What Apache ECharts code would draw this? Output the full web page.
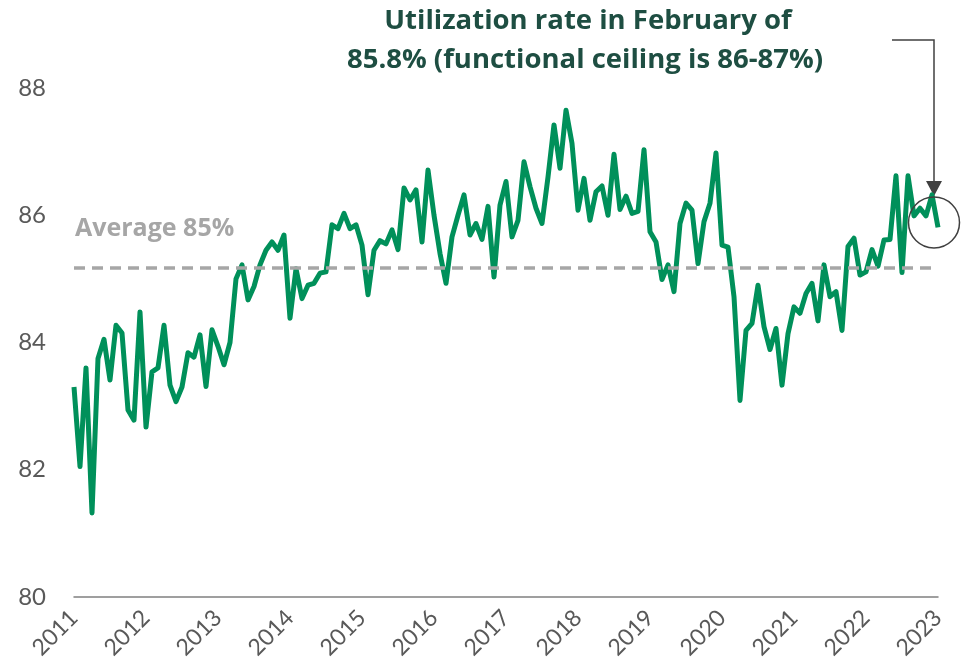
<!DOCTYPE html>
<html>
<head>
<meta charset="utf-8">
<script src="https://cdn.jsdelivr.net/npm/echarts@6/dist/echarts.min.js"></script>
<style>
  html, body { margin: 0; padding: 0; background: #fff; }
  #chart { width: 972px; height: 670px; }
</style>
</head>
<body>
<div id="chart"></div>
<script>
// monthly utilization rate, Feb 2011 - Feb 2023
const startYear = 2011
const startMonth = 2
const values = [
  83.30, 82.05, 83.60, 81.32, 83.75, 84.05, 83.41, 84.27, 84.15, 82.94, 82.78, 84.48,
  82.67, 83.54, 83.60, 84.27, 83.33, 83.07, 83.30, 83.84, 83.77, 84.12, 83.31, 84.20,
  83.94, 83.65, 84.00, 85.00, 85.22, 84.67, 84.88, 85.22, 85.45, 85.58, 85.45, 85.69,
  84.38, 85.16, 84.69, 84.90, 84.93, 85.09, 85.11, 85.85, 85.79, 86.03, 85.79, 85.85,
  85.53, 84.75, 85.45, 85.60, 85.55, 85.77, 85.46, 86.43, 86.24, 86.40, 85.58, 86.71,
  86.00, 85.40, 84.93, 85.66, 86.00, 86.32, 85.69, 85.87, 85.62, 86.14, 85.03, 86.16,
  86.53, 85.66, 85.92, 86.84, 86.45, 86.11, 85.87, 86.60, 87.42, 86.74, 87.65, 87.13,
  86.08, 86.58, 85.92, 86.37, 86.46, 86.00, 86.96, 86.09, 86.30, 86.03, 86.06, 87.03,
  85.74, 85.58, 84.99, 85.22, 84.80, 85.87, 86.19, 86.08, 85.24, 85.90, 86.19, 86.98,
  85.53, 85.50, 84.72, 83.09, 84.19, 84.30, 84.90, 84.25, 83.89, 84.22, 83.33, 84.14,
  84.56, 84.46, 84.77, 84.93, 84.34, 85.22, 84.72, 84.80, 84.19, 85.51, 85.64, 85.06,
  85.11, 85.46, 85.20, 85.61, 85.62, 86.62, 85.10, 86.62, 85.99, 86.11, 85.99, 86.32,
  85.81
]
const average = 85.17
const yTicks = [80, 82, 84, 86, 88]
const titleLines = ['Utilization rate in February of', '85.8% (functional ceiling is 86-87%)']
const averageLabel = 'Average 85%'

// month categories, labelled by year every 12th point
const categories = values.map(function (v, i) {
  const m = startMonth - 1 + i
  const y = startYear + Math.floor(m / 12)
  const mm = (m % 12) + 1
  return y + '-' + (mm < 10 ? '0' + mm : mm)
})

const font = 'Lato, "Open Sans", sans-serif'
const boldFont = '"Open Sans", Lato, sans-serif'
const chart = echarts.init(document.getElementById('chart'))

chart.setOption({
  animation: false,
  grid: { left: 74, right: 34, top: 88, bottom: 73 },
  xAxis: {
    type: 'category',
    boundaryGap: false,
    data: categories,
    axisTick: { show: false },
    axisLine: { lineStyle: { color: '#808080', width: 1.5 } },
    axisLabel: {
      interval: 11,
      rotate: 45,
      margin: 17,
      color: '#595959',
      fontFamily: font,
      fontSize: 23,
      formatter: function (v) { return v.substring(0, 4) }
    },
    splitLine: { show: false }
  },
  yAxis: {
    type: 'value',
    min: yTicks[0],
    max: yTicks[yTicks.length - 1],
    interval: 2,
    axisLine: { show: false },
    axisTick: { show: false },
    splitLine: { show: false },
    axisLabel: {
      margin: 28,
      color: '#595959',
      fontFamily: font,
      fontSize: 24
    }
  },
  series: [
    {
      type: 'line',
      data: values,
      showSymbol: false,
      symbol: 'none',
      lineStyle: { color: '#00905A', width: 5, join: 'round' },
      z: 3,
      markLine: {
        silent: true,
        symbol: 'none',
        label: { show: false },
        lineStyle: { color: '#A6A6A6', width: 3.5, type: [11, 7] },
        data: [{ yAxis: average }]
      }
    }
  ],
  graphic: [
    {
      type: 'text',
      style: {
        text: titleLines[0],
        x: 588,
        y: 21,
        fill: '#1E4E42',
        font: 'bold 27.5px ' + boldFont,
        align: 'center',
        verticalAlign: 'middle'
      }
    },
    {
      type: 'text',
      style: {
        text: titleLines[1],
        x: 585,
        y: 60,
        fill: '#1E4E42',
        font: 'bold 27.5px ' + boldFont,
        align: 'center',
        verticalAlign: 'middle'
      }
    },
    {
      type: 'text',
      style: {
        text: averageLabel,
        x: 75,
        y: 229,
        fill: '#A6A6A6',
        font: 'bold 25px ' + boldFont,
        verticalAlign: 'middle'
      }
    },
    {
      type: 'polyline',
      shape: { points: [[892, 40], [934, 40], [934, 181]] },
      style: { stroke: '#404040', lineWidth: 1.5, fill: null }
    },
    {
      type: 'polygon',
      shape: { points: [[926, 181], [942, 181], [934, 196]] },
      style: { fill: '#404040' }
    },
    {
      type: 'circle',
      shape: { cx: 934, cy: 222.5, r: 25.5 },
      style: { stroke: '#404040', lineWidth: 1.5, fill: null },
      z: 10
    }
  ]
})
</script>
</body>
</html>
